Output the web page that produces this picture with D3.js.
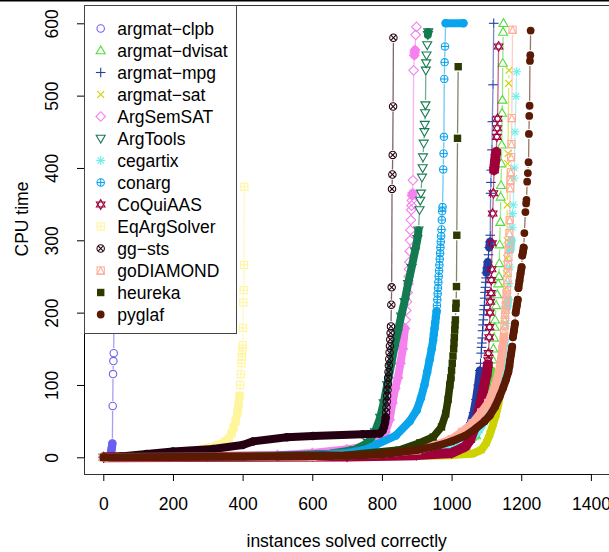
<!DOCTYPE html>
<html><head><meta charset="utf-8">
<script src="https://cdn.jsdelivr.net/npm/d3@7"></script>
<style>body{margin:0;background:#fff}svg{display:block}</style>
</head><body>
<svg id="chart" width="609" height="552"></svg>
<script>
// ---------- data ----------
const solverNames = ["argmat-clpb","argmat-dvisat","argmat-mpg","argmat-sat","ArgSemSAT","ArgTools","cegartix","conarg","CoQuiAAS","EqArgSolver","gg-sts","goDIAMOND","heureka","pyglaf"];
const solverColors = ["#6c5ff2","#52db3a","#1f3fa5","#cdd200","#f580ef","#147a52","#66eff0","#0ba4ec","#a0003a","#fff59c","#250012","#ffad9b","#2c3a00","#5a1a03"];
const solverShapes = ["circle","triUp","plus","cross","diamond","triDown","asterisk","circlePlus","star","squarePlus","circleCross","squareTri","squareFill","circleFill"];
const xTicks = [0,200,400,600,800,1000,1200,1400];
const yTicks = [0,100,200,300,400,500,600];

// [instances solved, CPU time]
const argmatClpb = [[1,0],[18,1],[20,3],[22,6],[23,9],[24,12],[25,15],[26,19],[27,71],[28,115],[29,133],[30,144],[31,560]];
const argmatDvisat = [[1,0],[700,1],[950,4],[1030,12],[1070,30],[1090,55],[1100,75],[1105,90],[1110,105],[1115,120],[1118,135],[1120,150],[1122,165],[1124,180],[1125,190],[1128,210],[1131,225],[1134,240],[1136,250],[1137,268],[1138,294],[1140,325],[1141,360],[1142,376],[1143,406],[1144,432],[1145,476],[1146,494],[1147,545],[1148,588],[1149,600]];
const argmatMpg = [[1,0],[600,1],[900,4],[1000,10],[1030,20],[1045,32],[1055,48],[1063,62],[1070,80],[1076,100],[1081,120],[1083,130],[1085,144],[1086,152],[1087,158],[1088,165],[1089,175],[1090,183],[1091,190],[1092,197],[1093,204],[1094,210],[1095,220],[1096,228],[1097,235],[1098,242],[1099,248],[1100,255],[1102,262],[1104,270],[1106,280],[1108,290],[1110,298],[1111,307],[1112,365],[1113,380],[1114,397],[1116,425],[1117,464],[1119,515],[1121,600]];
const argmatSat = [[1,0],[800,1],[1000,3],[1060,5],[1085,10],[1100,20],[1110,32],[1120,47],[1128,60],[1135,75],[1140,95],[1144,115],[1147,135],[1150,160],[1152,185],[1154,210],[1156,235],[1157,254],[1158,275],[1159,300],[1160,349],[1161,406],[1162,420],[1164,517],[1165,535]];
const argSemSat = [[1,0],[300,1],[500,3],[600,6],[700,11],[750,15],[790,22],[810,35],[822,52],[830,75],[838,95],[846,110],[853,130],[860,150],[866,178],[868,190],[870,203],[872,215],[874,228],[876,240],[877,250],[878,260],[879,270],[880,285],[881,300],[882,314],[883,328],[884,342],[885,348],[886,355],[887,362],[888,365],[889,383],[891,535],[893,556],[894,560],[895,563],[897,584],[899,595]];
const argTools = [[1,0],[300,1],[500,2],[650,5],[720,10],[760,20],[780,35],[795,55],[805,75],[815,100],[825,125],[835,150],[845,172],[855,195],[865,215],[875,240],[885,262],[895,285],[902,302],[905,314],[908,342],[910,355],[912,365],[915,387],[917,400],[918,415],[920,434],[922,450],[923,460],[924,476],[925,487],[926,535],[927,545],[928,556],[930,570],[932,584],[933,588]];
const cegartix = [[1,0],[700,1],[950,5],[1020,14],[1050,22],[1080,38],[1100,55],[1120,75],[1135,100],[1142,120],[1146,134],[1150,153],[1153,162],[1157,185],[1160,208],[1163,218],[1165,240],[1167,263],[1169,287],[1172,300],[1174,318],[1175,337],[1177,349],[1179,386],[1180,400],[1182,450],[1185,499],[1187,533]];
const conarg = [[1,0],[300,1],[600,3],[700,6],[750,10],[785,18],[840,30],[880,50],[900,65],[912,82],[922,100],[930,118],[937,135],[943,150],[947,162],[949,170],[951,178],[953,186],[955,194],[957,202],[958,210],[959,218],[960,226],[961,234],[962,242],[963,250],[964,258],[965,266],[966,274],[967,282],[968,290],[969,298],[970,306],[971,315],[972,328],[973,340],[974,346],[976,398],[977,420],[978,443],[979,523],[980,546],[981,568],[983,600],[1034,600]];
const coQuiAAS = [[1,0],[700,1],[900,3],[1000,6],[1040,15],[1053,24],[1067,42],[1075,56],[1081,70],[1087,83],[1091,93],[1096,105],[1101,116],[1104,128],[1105,134],[1106,144],[1108,166],[1109,180],[1110,200],[1111,215],[1113,227],[1114,245],[1115,260],[1116,296],[1118,337],[1120,365],[1122,397],[1126,415],[1128,422],[1130,443],[1131,455],[1132,468],[1135,568]];
const eqArgSolver = [[1,0],[100,1],[200,3],[300,13],[330,17],[350,22],[360,26],[368,33],[374,41],[380,50],[385,62],[388,72],[391,85],[393,100],[395,115],[397,130],[398,139],[399,147],[400,155],[401,179],[402,214],[403,231],[404,266],[405,374]];
const ggSts = [[1,0],[50,1],[124,4.6],[200,8],[315,11.5],[400,17],[430,22],[527,27.6],[602,29.4],[745,32],[794,33],[802,37],[806,42],[809,48],[811,55],[812,62],[813,69],[814,77],[815,85],[816,93],[817,101],[818,110],[819,118],[820,127],[821,136],[822,145],[823,154],[824,163],[825,172],[826,181],[827,211],[828,235],[829,371],[830,391],[831,418],[832,485],[833,580]];
const goDiamond = [[1,0],[600,1],[800,5],[900,10],[950,16],[1000,25],[1030,35],[1060,47],[1085,62],[1105,75],[1125,98],[1139,125],[1146,150],[1150,166],[1151,174],[1152,182],[1153,190],[1154,197],[1155,204],[1156,210],[1157,218],[1158,225],[1159,231],[1160,245],[1161,255],[1162,266],[1163,277],[1164,287],[1165,296],[1166,310],[1167,328],[1168,372],[1169,383],[1170,394],[1171,415],[1172,433],[1173,469],[1175,591]];
const heureka = [[1,0],[400,1],[700,3],[850,10],[909,20],[947,28],[971,42],[983,60],[990,80],[995,100],[998,110],[1000,120],[1002,130],[1004,140],[1006,150],[1007,158],[1008,166],[1009,176],[1010,183],[1011,190],[1012,206],[1013,213],[1014,236],[1015,307],[1017,441],[1019,540]];
const pyglaf = [[1,0],[500,1],[700,2],[800,4],[900,10],[960,16],[1000,22],[1040,30],[1070,40],[1095,50],[1110,58],[1125,70],[1138,84],[1148,96],[1156,107],[1163,118],[1166,126],[1168,134],[1171,143],[1174,153],[1176,166],[1179,175],[1182,185],[1184,200],[1187,209],[1190,218],[1192,234],[1195,244],[1198,254],[1201,263],[1203,279],[1205,284],[1207,290],[1209,310],[1212,339],[1214,351],[1215,356],[1217,381],[1219,393],[1221,408],[1222,447],[1223,472],[1224,486],[1225,548],[1226,556],[1227,590]];

const seriesData = [argmatClpb,argmatDvisat,argmatMpg,argmatSat,argSemSat,argTools,cegartix,conarg,coQuiAAS,eqArgSolver,ggSts,goDiamond,heureka,pyglaf];

// ---------- layout ----------
const FONT = "'Liberation Sans', Arial, sans-serif";
const FS = 17.5;
const box = {left:84, top:5, bottom:474, right:612};
const svg = d3.select("#chart");
const x = d3.scaleLinear().domain([0,1400]).range([103.3,590.9]);
const y = d3.scaleLinear().domain([0,600]).range([457.3,23.3]);

svg.append("rect").attr("x",0).attr("y",0).attr("width",609).attr("height",1.5).attr("fill","#000");
svg.append("rect").attr("x",box.left+0.5).attr("y",box.top+0.5)
  .attr("width",box.right-box.left).attr("height",box.bottom-box.top)
  .attr("fill","none").attr("stroke","#333").attr("stroke-width",1);

// ---------- markers ----------
function drawMarker(g, shape, cx, cy, color){
  const m = g.append("g").attr("transform",`translate(${cx},${cy})`)
    .attr("fill","none").attr("stroke",color).attr("stroke-width",1.1);
  const line=(x1,y1,x2,y2)=>m.append("line").attr("x1",x1).attr("y1",y1).attr("x2",x2).attr("y2",y2);
  const poly=(p)=>m.append("polygon").attr("points",p.map(d=>d.join(",")).join(" "));
  switch(shape){
    case "circle": m.append("circle").attr("r",3.7); break;
    case "triUp": poly([[0,-4.6],[-4.5,3.2],[4.5,3.2]]); break;
    case "plus": line(-4.8,0,4.8,0); line(0,-4.8,0,4.8); break;
    case "cross": line(-3.4,-3.4,3.4,3.4); line(-3.4,3.4,3.4,-3.4); break;
    case "diamond": poly([[0,-4.8],[4.8,0],[0,4.8],[-4.8,0]]); break;
    case "triDown": poly([[0,4.6],[-4.5,-3.2],[4.5,-3.2]]); break;
    case "asterisk": line(-4.4,0,4.4,0); line(0,-4.4,0,4.4); line(-3.2,-3.2,3.2,3.2); line(-3.2,3.2,3.2,-3.2); break;
    case "circlePlus": m.append("circle").attr("r",3.7); line(-3.7,0,3.7,0); line(0,-3.7,0,3.7); break;
    case "star": poly([[0,-4.9],[-4.3,2.5],[4.3,2.5]]); poly([[0,4.9],[-4.3,-2.5],[4.3,-2.5]]); break;
    case "squarePlus": m.append("rect").attr("x",-3.6).attr("y",-3.6).attr("width",7.2).attr("height",7.2); line(-3.6,0,3.6,0); line(0,-3.6,0,3.6); break;
    case "circleCross": m.append("circle").attr("r",3.7); line(-2.6,-2.6,2.6,2.6); line(-2.6,2.6,2.6,-2.6); break;
    case "squareTri": m.append("rect").attr("x",-3.6).attr("y",-3.6).attr("width",7.2).attr("height",7.2); poly([[0,-3.6],[-3.6,3.6],[3.6,3.6]]); break;
    case "squareFill": m.attr("fill",color).attr("stroke","none"); m.append("rect").attr("x",-3.7).attr("y",-3.7).attr("width",7.4).attr("height",7.4); break;
    case "circleFill": m.attr("fill",color).attr("stroke","none"); m.append("circle").attr("r",3.9); break;
  }
}
const bandWidth = {star:10, circleFill:7.8, squareFill:7.6, squareTri:8.4};

// ---------- series ----------
const plot = svg.append("g");
seriesData.forEach((pts, si)=>{
  const color = solverColors[si], shape = solverShapes[si];
  const g = plot.append("g");
  const px = pts.map(d=>[x(d[0]), y(d[1])]);
  const gap = 5;
  for(let i=1;i<px.length;i++){
    const a=px[i-1], b=px[i];
    const dx=b[0]-a[0], dy=b[1]-a[1], L=Math.hypot(dx,dy);
    if(L>2*gap){
      const ux=dx/L, uy=dy/L;
      g.append("line").attr("x1",a[0]+ux*gap).attr("y1",a[1]+uy*gap)
        .attr("x2",b[0]-ux*gap).attr("y2",b[1]-uy*gap)
        .attr("stroke",color).attr("stroke-opacity",0.6).attr("stroke-width",1.3);
    }
  }
  // where successive instances are closer than a marker, the markers merge into a band
  let run=[];
  const runs=[];
  for(let i=1;i<pts.length;i++){
    const dr=pts[i][0]-pts[i-1][0];
    const step=Math.abs(px[i][1]-px[i-1][1])/dr;
    if(step<=3.5){ if(run.length===0) run.push(px[i-1]); run.push(px[i]); }
    else { if(run.length) runs.push(run); run=[]; }
  }
  if(run.length) runs.push(run);
  const lineGen = d3.line();
  runs.forEach(r=>{
    g.append("path").attr("d",lineGen(r)).attr("fill","none").attr("stroke",color)
      .attr("stroke-width",bandWidth[shape]||8).attr("stroke-linecap","round").attr("stroke-linejoin","round");
  });
  px.forEach(p=>drawMarker(g, shape, p[0], p[1], color));
});

// ---------- axes ----------
const gx = svg.append("g").attr("transform",`translate(0,${box.bottom})`)
  .call(d3.axisBottom(x).tickValues(xTicks).tickFormat(d3.format("d")).tickSize(7).tickSizeOuter(0));
gx.attr("font-size",FS).attr("font-family",FONT);
gx.selectAll("text").attr("y",36).attr("dy",null).attr("fill","#000");
gx.selectAll("line,path").attr("stroke","#000");

const gy = svg.append("g").attr("transform",`translate(${box.left},0)`)
  .call(d3.axisLeft(y).tickValues(yTicks).tickFormat(d3.format("d")).tickSize(7).tickSizeOuter(0));
gy.attr("font-size",FS).attr("font-family",FONT);
gy.selectAll("text").attr("transform","rotate(-90)").attr("x",0).attr("y",-26).attr("dy",null)
  .attr("text-anchor","middle").attr("fill","#000");
gy.selectAll("line,path").attr("stroke","#000");

svg.append("text").attr("x",346.7).attr("y",547).attr("text-anchor","middle")
  .attr("font-family",FONT).attr("font-size",FS).text("instances solved correctly");
svg.append("text").attr("transform","translate(28,219) rotate(-90)").attr("text-anchor","middle")
  .attr("font-family",FONT).attr("font-size",FS).text("CPU time");

// ---------- legend ----------
const lg = svg.append("g");
lg.append("rect").attr("x",84.5).attr("y",5.5).attr("width",152).attr("height",328)
  .attr("fill","#fff").attr("stroke","#444").attr("stroke-width",1);
solverNames.forEach((name,i)=>{
  const cy = 28.5 + i*22;
  drawMarker(lg, solverShapes[i], 100.7, cy, solverColors[i]);
  lg.append("text").attr("x",117.3).attr("y",cy).attr("dy","0.35em")
    .attr("font-family",FONT).attr("font-size",FS).attr("fill","#000")
    .text(name.replace("-","\u2212"));
});
</script>
</body></html>
